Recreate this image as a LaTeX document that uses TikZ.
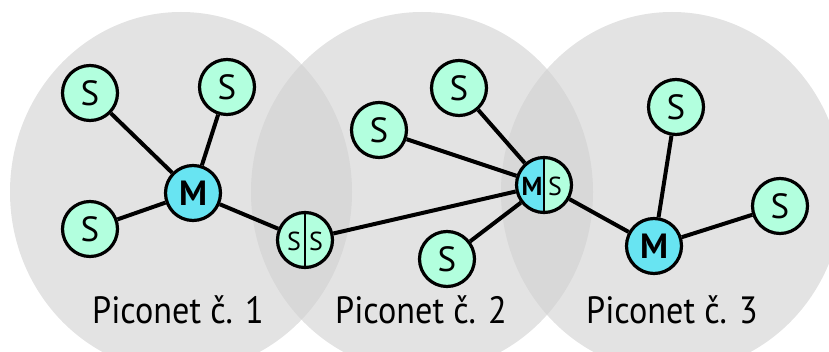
\documentclass[tikz,border=0pt]{standalone}
\usepackage{fontspec}
\setmainfont{PT Sans}
\usetikzlibrary{calc}
\definecolor{sfill}{RGB}{178,255,222}
\definecolor{mfill}{RGB}{104,228,242}
\definecolor{netgray}{RGB}{208,208,208}
\begin{document}
\begin{tikzpicture}[x=0.5pt,y=-0.5pt,
  net/.style={fill=netgray, fill opacity=0.6},
  snode/.style={circle, draw=black, line width=1.6pt, fill=sfill, minimum size=27.5pt, inner sep=0pt, font=\fontsize{17.5}{18}\selectfont},
  mnode/.style={snode, fill=mfill, font=\fontsize{17.5}{18}\selectfont\bfseries},
  half/.style={inner sep=0pt, font=\fontsize{13}{13}\selectfont},
  link/.style={line width=2pt},
  lbl/.style={font=\fontsize{19}{19}\selectfont, anchor=base, xscale=0.9}
]
\useasboundingbox (0,0) rectangle (829,352);
\fill[net] (181,192) ellipse [x radius=171, y radius=180];
\fill[net] (422,192) ellipse [x radius=171, y radius=180];
\fill[net] (672,192) ellipse [x radius=171, y radius=180];

\node[snode] (s1) at (90,93) {S};
\node[snode] (s2) at (227,87) {S};
\node[mnode] (m1) at (193,193) {M};
\node[snode] (s3) at (90,229) {S};
\node[snode] (ss) at (305,240) {};
\draw[line width=1pt] (ss.north) -- (ss.south);
\node[half] (ssa) at ($(ss)+(-11,1)$) {S};
\node[half] (ssb) at ($(ss)+(11,1)$) {S};

\node[snode] (s4) at (379,130) {S};
\node[snode] (s5) at (459,88) {S};
\node[snode, path picture={\fill[mfill] (path picture bounding box.north west) rectangle (path picture bounding box.south);}] (ms) at (544,185) {};
\draw[line width=1pt] (ms.north) -- (ms.south);
\node[half, font=\fontsize{13}{13}\selectfont\bfseries] (msa) at ($(ms)+(-12,1)$) {M};
\node[half] (msb) at ($(ms)+(11,1)$) {S};
\node[snode] (s6) at (447,259) {S};

\node[snode] (s7) at (676,107) {S};
\node[mnode] (m3) at (654,246) {M};
\node[snode] (s8) at (780,206) {S};

\draw[link] (m1) -- (s1);
\draw[link] (m1) -- (s2);
\draw[link] (m1) -- (s3);
\draw[link] (m1) -- (ss);
\draw[link] (ss) -- (ms);
\draw[link] (ms) -- (s4);
\draw[link] (ms) -- (s5);
\draw[link] (ms) -- (s6);
\draw[link] (ms) -- (m3);
\draw[link] (m3) -- (s7);
\draw[link] (m3) -- (s8);

\node[lbl] (l1) at (178,323) {Piconet č. 1};
\node[lbl] (l2) at (421,323) {Piconet č. 2};
\node[lbl] (l3) at (672,323) {Piconet č. 3};
\end{tikzpicture}
\end{document}
